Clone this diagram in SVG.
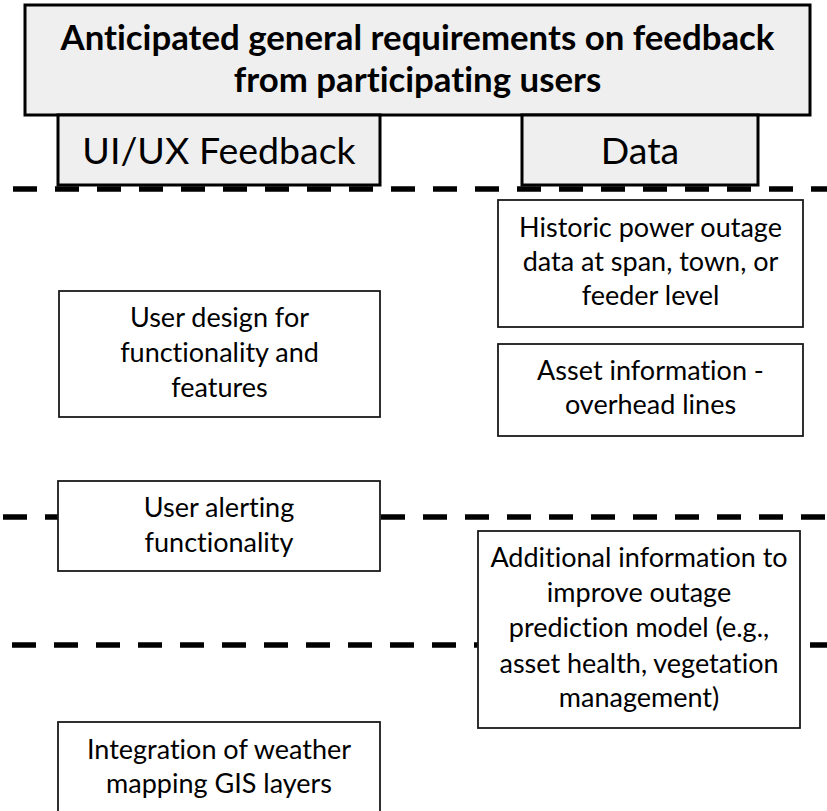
<svg xmlns="http://www.w3.org/2000/svg" width="827" height="811" viewBox="0 0 827 811">
<style>
.dash{stroke:#000;stroke-width:5.5;stroke-dasharray:24 18;fill:none}
.hdr{fill:#efefef;stroke:#000;stroke-width:3}
.box{fill:#fff;stroke:#1a1a1a;stroke-width:1.8}
text{font-family:Lato,"Liberation Sans",sans-serif;fill:#000;text-anchor:middle;font-variant-ligatures:none;font-feature-settings:"liga" 0}
.t{font-weight:bold;font-size:34.8px}
.h{font-size:37.5px}
.b{font-size:27px}
</style>
<rect width="827" height="811" fill="#fff"/>
<g id="connectors">
<line class="dash" x1="13" y1="189" x2="827" y2="189"/>
<line class="dash" x1="3" y1="517" x2="827" y2="517"/>
<line class="dash" x1="12" y1="645" x2="827" y2="645"/>
</g>
<g id="title">
<rect class="hdr" x="25" y="5" width="785" height="110"/>
<text class="t" x="417.5" y="50">Anticipated general requirements on feedback</text>
<text class="t" x="417.5" y="92">from participating users</text>
</g>
<g id="uiux">
<rect class="hdr" x="58" y="115" width="322" height="70"/>
<text class="h" x="219" y="164">UI/UX Feedback</text>
</g>
<g id="data">
<rect class="hdr" x="522" y="115" width="236" height="70"/>
<text class="h" x="640" y="164">Data</text>
</g>
<g id="historic">
<rect class="box" x="498" y="200" width="305" height="127"/>
<text class="b" x="650.5" y="237">Historic power outage</text>
<text class="b" x="650.5" y="271">data at span, town, or</text>
<text class="b" x="650.5" y="305">feeder level</text>
</g>
<g id="asset">
<rect class="box" x="498" y="344" width="305" height="92"/>
<text class="b" x="650.5" y="380">Asset information -</text>
<text class="b" x="650.5" y="414">overhead lines</text>
</g>
<g id="userdesign">
<rect class="box" x="59" y="291" width="321" height="126"/>
<text class="b" x="219.5" y="327">User design for</text>
<text class="b" x="219.5" y="362">functionality and</text>
<text class="b" x="219.5" y="397">features</text>
</g>
<g id="alerting">
<rect class="box" x="58" y="481" width="322" height="90"/>
<text class="b" x="219" y="517">User alerting</text>
<text class="b" x="219" y="552">functionality</text>
</g>
<g id="additional">
<rect class="box" x="478" y="531" width="322" height="197"/>
<text class="b" x="639" y="567">Additional information to</text>
<text class="b" x="639" y="602">improve outage</text>
<text class="b" x="639" y="637">prediction model (e.g.,</text>
<text class="b" x="639" y="673">asset health, vegetation</text>
<text class="b" x="639" y="707">management)</text>
</g>
<g id="integration">
<rect class="box" x="58" y="722" width="322" height="95"/>
<text class="b" x="219" y="759">Integration of weather</text>
<text class="b" x="219" y="793">mapping GIS layers</text>
</g>
</svg>
